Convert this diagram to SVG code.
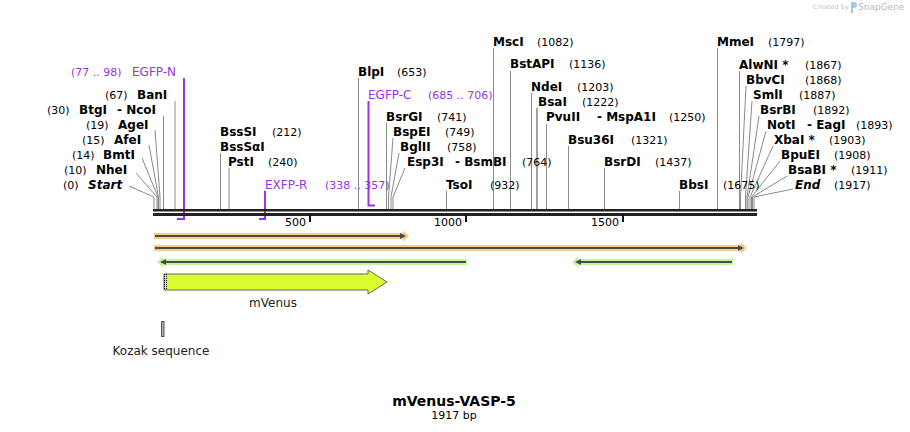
<svg xmlns="http://www.w3.org/2000/svg" width="910" height="432" viewBox="0 0 910 432">
<style>
.e{font:bold 12px "DejaVu Sans",Verdana,sans-serif;fill:#000}
.ei{font:italic bold 12px "DejaVu Sans",Verdana,sans-serif;fill:#000}
.n{font:11px "DejaVu Sans",Verdana,sans-serif;fill:#000}
.p{font:12px "DejaVu Sans",Verdana,sans-serif;fill:#9933e6}
.pn{font:11px "DejaVu Sans",Verdana,sans-serif;fill:#9933e6}
.f{font:12px "DejaVu Sans",Verdana,sans-serif;fill:#222}
.cl{stroke:#8a8a8a;stroke-width:1;fill:none}
.pr{stroke:#9933e6;stroke-width:2;fill:none}
.tk{stroke:#111;stroke-width:2}
.dk{stroke:#4a4a4a;stroke-width:2}
</style>
<rect width="910" height="432" fill="#fff"/>

<g id="credit">
<text x="813" y="9" style="font:6.5px 'DejaVu Sans',sans-serif;fill:#c4c4c4">Created by</text>
<path d="M851,2 h3 a3,3 0 0 1 0,6 h-1 v5 h-2 z" fill="#9ecbea"/>
<text x="858" y="10" style="font:9px 'DejaVu Sans',sans-serif;fill:#b8b8b8">SnapGene</text>
</g>

<g id="connectors">
<!-- left cluster -->
<polyline class="cl" points="129,186 154,197 154,209"/>
<polyline class="cl" points="136,173 157,197 157,209"/>
<polyline class="cl" points="142,158 158,197 158,209"/>
<polyline class="cl" points="149,145 158.5,197 158.5,209"/>
<polyline class="cl" points="155,130 160,197 160,209"/>
<line class="cl" x1="163.5" y1="116" x2="163.5" y2="209"/>
<line class="cl" x1="175" y1="101" x2="175" y2="209"/>
<!-- middle -->
<line class="cl" x1="220.5" y1="153" x2="220.5" y2="209"/>
<line class="cl" x1="229" y1="168" x2="229" y2="209"/>
<line class="cl" x1="358.5" y1="78" x2="358.5" y2="209"/>
<line class="cl" x1="386.5" y1="123" x2="386.5" y2="209"/>
<polyline class="cl" points="393,138 388.5,197 388.5,209"/>
<polyline class="cl" points="399,153 391,197 391,209"/>
<polyline class="cl" points="405,168 393,197 393,209"/>
<line class="cl" x1="446.5" y1="191" x2="446.5" y2="209"/>
<line class="cl" x1="493.5" y1="48" x2="493.5" y2="209"/>
<line class="cl" x1="510.5" y1="71" x2="510.5" y2="209"/>
<line class="cl" x1="531.5" y1="93" x2="531.5" y2="209"/>
<line class="cl" x1="537" y1="108" x2="537" y2="209" style="stroke-width:1.6"/>
<line class="cl" x1="546.5" y1="124" x2="546.5" y2="209"/>
<line class="cl" x1="568.5" y1="146" x2="568.5" y2="209"/>
<line class="cl" x1="604.5" y1="168" x2="604.5" y2="209"/>
<line class="cl" x1="679.5" y1="191" x2="679.5" y2="209"/>
<line class="cl" x1="717.5" y1="48" x2="717.5" y2="209"/>
<!-- right cluster -->
<line class="cl" x1="739.5" y1="71" x2="739.5" y2="209"/>
<polyline class="cl" points="746,86 740.5,197 740.5,209"/>
<polyline class="cl" points="752,101 745.5,197 745.5,209"/>
<polyline class="cl" points="759,116 747,197 747,209"/>
<polyline class="cl" points="766,131 748,197 748,209"/>
<polyline class="cl" points="773,146 750,197 750,209"/>
<polyline class="cl" points="780,161 751.5,197 751.5,209"/>
<polyline class="cl" points="787,176 752.5,197 752.5,209"/>
<polyline class="cl" points="793,189 754,197 754,209"/>
<!-- primers -->
<polyline class="pr" points="184,78 184,219 177,219"/>
<polyline class="pr" points="265,191 265,219 259,219"/>
<polyline class="pr" points="368.5,101 368.5,205.5 375,205.5"/>
</g>

<g id="backbone">
<rect x="153" y="209" width="604" height="2.5" fill="#222"/>
<rect x="153" y="213" width="604" height="3" fill="#222"/>
<line class="tk" x1="310" y1="215" x2="310" y2="222"/>
<line class="tk" x1="466" y1="215" x2="466" y2="222"/>
<line class="tk" x1="623" y1="215" x2="623" y2="222"/>
<text class="n" x="306" y="226" text-anchor="end">500</text>
<text class="n" x="462" y="226" text-anchor="end">1000</text>
<text class="n" x="619" y="226" text-anchor="end">1500</text>
</g>

<g id="site-labels">
<text class="n" x="63" y="189">(0)</text><text class="ei" x="88" y="189">Start</text>
<text class="n" x="64" y="174">(10)</text><text class="e" x="96" y="174">NheI</text>
<text class="n" x="72" y="159">(14)</text><text class="e" x="103" y="159">BmtI</text>
<text class="n" x="82" y="144">(15)</text><text class="e" x="114" y="144">AfeI</text>
<text class="n" x="86" y="129">(19)</text><text class="e" x="118" y="129">AgeI</text>
<text class="n" x="47" y="114">(30)</text><text class="e" x="79" y="114">BtgI</text><text class="e" x="117" y="114">- NcoI</text>
<text class="n" x="105" y="99">(67)</text><text class="e" x="137" y="99">BanI</text>

<text class="e" x="220" y="136">BssSI</text><text class="n" x="272" y="136">(212)</text>
<text class="e" x="220" y="151">BssSαI</text>
<text class="e" x="228" y="166">PstI</text><text class="n" x="268" y="166">(240)</text>
<text class="e" x="358" y="76">BlpI</text><text class="n" x="397" y="76">(653)</text>
<text class="e" x="386" y="121">BsrGI</text><text class="n" x="437" y="121">(741)</text>
<text class="e" x="393" y="136">BspEI</text><text class="n" x="445" y="136">(749)</text>
<text class="e" x="400" y="151">BglII</text><text class="n" x="447" y="151">(758)</text>
<text class="e" x="407" y="166">Esp3I</text><text class="e" x="455" y="166">- BsmBI</text><text class="n" x="522" y="166">(764)</text>
<text class="e" x="446" y="189">TsoI</text><text class="n" x="490" y="189">(932)</text>

<text class="e" x="493" y="46">MscI</text><text class="n" x="537" y="46">(1082)</text>
<text class="e" x="510" y="68">BstAPI</text><text class="n" x="569" y="68">(1136)</text>
<text class="e" x="531" y="91">NdeI</text><text class="n" x="577" y="91">(1203)</text>
<text class="e" x="538" y="106">BsaI</text><text class="n" x="582" y="106">(1222)</text>
<text class="e" x="546" y="121">PvuII</text><text class="e" x="597" y="121">- MspA1I</text><text class="n" x="669" y="121">(1250)</text>
<text class="e" x="568" y="144">Bsu36I</text><text class="n" x="631" y="144">(1321)</text>
<text class="e" x="604" y="166">BsrDI</text><text class="n" x="655" y="166">(1437)</text>
<text class="e" x="679" y="189">BbsI</text><text class="n" x="723" y="189">(1675)</text>
<text class="e" x="717" y="46">MmeI</text><text class="n" x="768" y="46">(1797)</text>

<text class="e" x="739" y="69">AlwNI *</text><text class="n" x="805" y="69">(1867)</text>
<text class="e" x="746" y="84">BbvCI</text><text class="n" x="805" y="84">(1868)</text>
<text class="e" x="753" y="99">SmlI</text><text class="n" x="799" y="99">(1887)</text>
<text class="e" x="760" y="114">BsrBI</text><text class="n" x="813" y="114">(1892)</text>
<text class="e" x="767" y="129">NotI</text><text class="e" x="807" y="129">- EagI</text><text class="n" x="856" y="129">(1893)</text>
<text class="e" x="774" y="144">XbaI *</text><text class="n" x="829" y="144">(1903)</text>
<text class="e" x="781" y="159">BpuEI</text><text class="n" x="834" y="159">(1908)</text>
<text class="e" x="788" y="174">BsaBI *</text><text class="n" x="851" y="174">(1911)</text>
<text class="ei" x="795" y="189">End</text><text class="n" x="834" y="189">(1917)</text>
</g>

<g id="primer-EGFP-N">
<text class="pn" x="71" y="76">(77 .. 98)</text><text class="p" x="132" y="76">EGFP-N</text>
</g>
<g id="primer-EXFP-R">
<text class="p" x="265" y="189">EXFP-R</text><text class="pn" x="325" y="189">(338 .. 357)</text>
</g>
<g id="primer-EGFP-C">
<text class="p" x="368" y="99">EGFP-C</text><text class="pn" x="428" y="99">(685 .. 706)</text>
</g>

<g id="orf-1">
<rect x="154" y="233" width="250" height="6" fill="#fccb86"/>
<polygon points="403,230.5 409,236 403,241.5" fill="#fccb86"/>
<line class="dk" x1="155" y1="236" x2="402" y2="236"/>
<polygon points="400,233 406,236 400,239" fill="#4a4a4a"/>
</g>
<g id="orf-2">
<rect x="154" y="245" width="588" height="6" fill="#fccb86"/>
<polygon points="741,242.5 747,248 741,253.5" fill="#fccb86"/>
<line class="dk" x1="155" y1="248" x2="740" y2="248"/>
<polygon points="738,245 744,248 738,251" fill="#4a4a4a"/>
</g>
<g id="orf-3">
<rect x="162" y="259" width="305" height="6" fill="#c2f79a"/>
<polygon points="163,256.5 157,262 163,267.5" fill="#c2f79a"/>
<line class="dk" x1="164" y1="262" x2="466" y2="262"/>
<polygon points="166,259 160,262 166,265" fill="#4a4a4a"/>
</g>
<g id="orf-4">
<rect x="577" y="259" width="156" height="6" fill="#c2f79a"/>
<polygon points="578,256.5 572,262 578,267.5" fill="#c2f79a"/>
<line class="dk" x1="579" y1="262" x2="732" y2="262"/>
<polygon points="581,259 575,262 581,265" fill="#4a4a4a"/>
</g>

<g id="mVenus">
<polygon points="164,274 368,274 368,270 387,282 368,294 368,290 164,290" fill="#dcfc30" stroke="#666" stroke-width="1"/>
<line x1="164.5" y1="274" x2="164.5" y2="290" stroke="#000" stroke-dasharray="1,1"/>
<line x1="166.5" y1="274" x2="166.5" y2="290" stroke="#000" stroke-dasharray="1,1"/>
<text class="f" x="273" y="307" text-anchor="middle">mVenus</text>
</g>

<g id="kozak">
<rect x="161.5" y="321.5" width="2.5" height="15" fill="#b0b0b0" stroke="#555" stroke-width="1"/>
<text class="f" x="161" y="355" text-anchor="middle">Kozak sequence</text>
</g>

<g id="title">
<text x="454" y="406" text-anchor="middle" style="font:bold 14px 'DejaVu Sans',Verdana,sans-serif;fill:#000">mVenus-VASP-5</text>
<text x="454" y="419" text-anchor="middle" style="font:11px 'DejaVu Sans',Verdana,sans-serif;fill:#000">1917 bp</text>
</g>
</svg>
